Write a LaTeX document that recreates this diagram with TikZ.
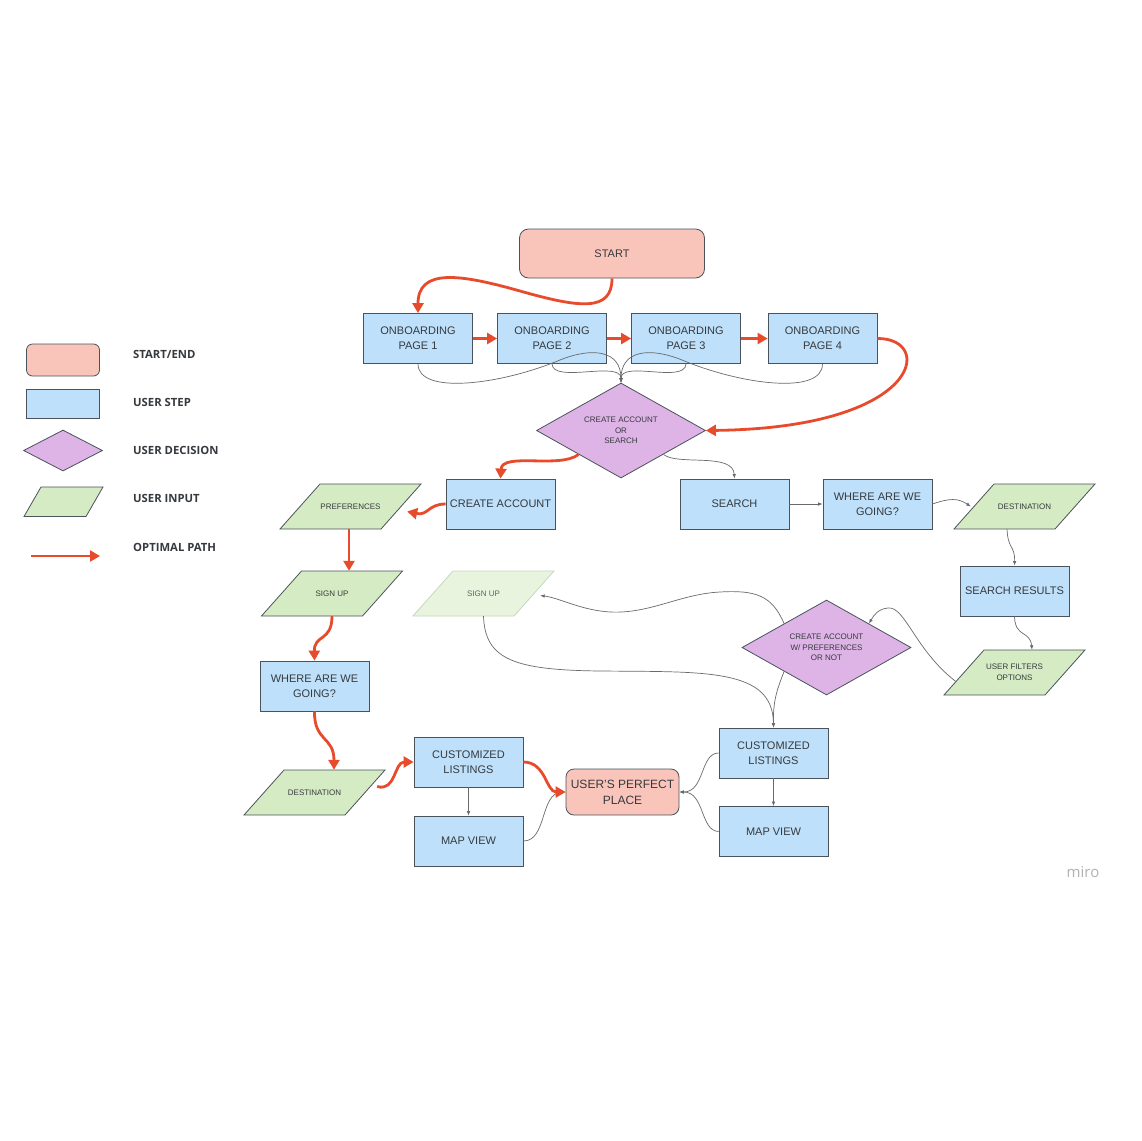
\documentclass[tikz,border=0pt]{standalone}
\usepackage{fontspec}
\setmainfont{Liberation Sans}
\newfontfamily\legendfont{Open Sans}
\usetikzlibrary{shapes.geometric,arrows.meta,calc}
\definecolor{startfill}{HTML}{F9C4BA}
\definecolor{stepfill}{HTML}{BEE0FA}
\definecolor{decfill}{HTML}{DDB4E5}
\definecolor{inpfill}{HTML}{D5EBC3}
\definecolor{fadefill}{HTML}{E9F4DF}
\definecolor{fadeedge}{HTML}{C6D6BE}
\definecolor{optred}{HTML}{E84B2C}
\definecolor{edgec}{HTML}{4A535C}
\definecolor{txt}{HTML}{363A3E}
\definecolor{thinc}{HTML}{6A6A6A}
% parallelogram input box: [style of outline]{name}{centre}{text}
\newcommand{\inputbox}[4][]{%
  \path[inputpoly,#1] ($(#3)+(-70.5,22.5)$) -- ($(#3)+(30.5,22.5)$) -- ($(#3)+(70.5,-22.5)$) -- ($(#3)+(-30.5,-22.5)$) -- cycle;
  \node[inputtext] (#2) at (#3) {#4};}
\begin{document}
\begin{tikzpicture}[x=1pt,y=-1pt,
  startend/.style={draw=edgec,fill=startfill,rounded corners=9pt,line width=0.8pt,text=txt,align=center,inner sep=0pt,font=\fontsize{11}{15}\selectfont},
  userstep/.style={draw=edgec,fill=stepfill,minimum width=109pt,minimum height=50pt,line width=0.8pt,text=txt,align=center,inner sep=0pt,font=\fontsize{11}{15}\selectfont},
  decision/.style={shape=diamond,draw=edgec,fill=decfill,minimum width=169pt,minimum height=95pt,aspect=1.8,line width=0.8pt,inner sep=0pt,text=txt,align=center,font=\fontsize{8}{10.5}\selectfont},
  inputpoly/.style={draw=edgec,fill=inpfill,line width=0.8pt},
  fadedpoly/.style={draw=fadeedge,fill=fadefill},
  inputtext/.style={minimum width=101pt,minimum height=45pt,inner sep=0pt,text=txt,align=center,font=\fontsize{8}{11}\selectfont},
  optimal/.style={draw=optred,line width=2.8pt,-{Triangle[length=10pt,width=11pt]}},
  flow/.style={draw=thinc,line width=0.7pt,-{Latex[length=4.5pt,width=3.5pt]}},
  legendlabel/.style={anchor=west,inner sep=0pt,text=txt,font=\legendfont\bfseries\fontsize{11.3}{13}\selectfont}
]
\fill[white] (0,0) rectangle (1141,1141);
\useasboundingbox (0,0) rectangle (1141,1141);

% ---------- legend ----------
\node[startend,minimum width=73pt,minimum height=32pt,rounded corners=6pt] (lgstart) at (63,360) {};
\node[userstep,minimum width=73pt,minimum height=29pt] (lgstep) at (63,403.5) {};
\node[decision,minimum width=79pt,minimum height=41pt] (lgdec) at (63,450.5) {};
\path[inputpoly] (24,516.5) -- (86,516.5) -- (103,487) -- (41,487) -- cycle;
\coordinate (lgarrA) at (31,556);
\coordinate (lgarrB) at (100,556);
\draw[optimal] (lgarrA) -- (lgarrB);
\node[legendlabel] (lbl1) at (133,354) {START/END};
\node[legendlabel] (lbl2) at (133,402) {USER STEP};
\node[legendlabel] (lbl3) at (133,450) {USER DECISION};
\node[legendlabel] (lbl4) at (133,498) {USER INPUT};
\node[legendlabel] (lbl5) at (133,547) {OPTIMAL PATH};

% ---------- nodes ----------
\node[startend,minimum width=185pt,minimum height=49pt] (start) at (612,253.5) {START};
\node[userstep] (ob1) at (418,338.5) {ONBOARDING\\PAGE 1};
\node[userstep] (ob2) at (552,338.5) {ONBOARDING\\PAGE 2};
\node[userstep] (ob3) at (686,338.5) {ONBOARDING\\PAGE 3};
\node[userstep] (ob4) at (822.5,338.5) {ONBOARDING\\PAGE 4};
\node[decision] (d1) at (621,430.5) {CREATE ACCOUNT\\OR\\SEARCH};
\node[userstep] (ca) at (500.5,504) {CREATE ACCOUNT};
\inputbox{pref}{350.5,506.5}{PREFERENCES}
\node[userstep] (search) at (734.5,504) {SEARCH};
\node[userstep] (where1) at (877.5,504) {WHERE ARE WE\\GOING?};
\inputbox{dest1}{1024.5,506.5}{DESTINATION}
\node[userstep] (sres) at (1014.5,591) {SEARCH RESULTS};
\inputbox{signup}{332,593.5}{SIGN UP}
\inputbox[fadedpoly]{signupf}{483.5,593.5}{\textcolor{txt!80}{SIGN UP}}
\node[decision] (d2) at (826.5,647.5) {CREATE ACCOUNT\\W/ PREFERENCES\\OR NOT};
\inputbox{filters}{1014.5,672.5}{USER FILTERS\\OPTIONS}
\node[userstep] (where2) at (314.5,686) {WHERE ARE WE\\GOING?};
\node[userstep] (cl1) at (468.5,762) {CUSTOMIZED\\LISTINGS};
\inputbox{dest2}{314.5,792.5}{DESTINATION}
\node[userstep] (mv1) at (468.5,841) {MAP VIEW};
\node[startend,minimum width=113pt,minimum height=46pt,rounded corners=8pt,font=\fontsize{12}{16}\selectfont] (upp) at (622.5,792) {USER'S PERFECT\\PLACE};
\node[userstep] (cl2) at (773.5,753) {CUSTOMIZED\\LISTINGS};
\node[userstep] (mv2) at (773.5,831.5) {MAP VIEW};
\node[anchor=center,inner sep=0pt,text=black!30,font=\legendfont\fontsize{15}{15}\selectfont] (miro) at (1083,872) {miro};

% ---------- thin connectors ----------
\draw[flow] (ob1.south) .. controls (418,395) and (500,385) .. (560,360) .. controls (592,347) and (621,350) .. (d1.north);
\draw[flow] (ob4.south) .. controls (822.5,395) and (742,385) .. (682,360) .. controls (650,347) and (621,350) .. (d1.north);
\draw[flow] (ob2.south) .. controls (553,384) and (621,360) .. (d1.north);
\draw[flow] (ob3.south) .. controls (685,384) and (621,360) .. (d1.north);
\draw[flow] (d1.south east) .. controls (678,466) and (733,452) .. (search.north);
\draw[flow] (search.east) -- (where1.west);
\draw[flow] (where1.east) .. controls (950,498) and (958,498) .. ([xshift=-3pt]dest1.west);
\draw[flow] ([xshift=-17.5pt]dest1.south) .. controls (1008,550) and (1015,545) .. (sres.north);
\draw[flow] (sres.south) .. controls (1015,638) and (1030,630) .. ([xshift=17.5pt]filters.north);
\draw[flow] ([shift={(-8,9)}]filters.west) .. controls (915,650) and (905,606) .. (888,608) .. controls (878,609) and (874,615) .. (d2.north east);
\draw[flow] (d2.north west) .. controls (772,595) and (755,590) .. (720,592) .. controls (680,594) and (650,614) .. (610,612) .. controls (580,610) and (560,598) .. ([shift={(6,2)}]signupf.east);
\draw[flow] (signupf.south) .. controls (485,660) and (515,670) .. (600,671) .. controls (705,672) and (773,668) .. (cl2.north);
\draw[flow] (d2.south west) .. controls (777,690) and (773,700) .. (cl2.north);
\draw[flow] (cl2.south) -- (mv2.north);
\draw[flow] (cl2.west) .. controls (700,753) and (705,792) .. (upp.east);
\draw[flow] (mv2.west) .. controls (700,831) and (705,792) .. (upp.east);
\draw[flow] (cl1.south) -- (mv1.north);
\draw[flow] (mv1.east) .. controls (547,841) and (540,793) .. (upp.west);

% ---------- optimal path ----------
\draw[optimal] (start.south) .. controls (612,312) and (580,308) .. (520,291) .. controls (460,274) and (418,268) .. (ob1.north);
\draw[optimal] (ob1.east) -- (ob2.west);
\draw[optimal] (ob2.east) -- (ob3.west);
\draw[optimal] (ob3.east) -- (ob4.west);
\draw[optimal] (ob4.east) .. controls (935,338) and (922,428) .. (d1.east);
\draw[optimal] (d1.south west) .. controls (560,469) and (502,452) .. (ca.north);
\draw[optimal] (ca.west) .. controls (428,504) and (428,516) .. ([shift={(6,5)}]pref.east);
\draw[optimal] ([xshift=-1.5pt]pref.south) -- ([xshift=17pt]signup.north);
\draw[optimal] (signup.south) .. controls (332,642) and (314,634) .. (where2.north);
\draw[optimal] (where2.south) .. controls (314,742) and (334,736) .. ([xshift=19.5pt]dest2.north);
\draw[optimal] ([shift={(12,-6)}]dest2.east) .. controls (396,792) and (394,762) .. (cl1.west);
\draw[optimal] (cl1.east) .. controls (546,762) and (546,792) .. (upp.west);
\end{tikzpicture}
\end{document}
